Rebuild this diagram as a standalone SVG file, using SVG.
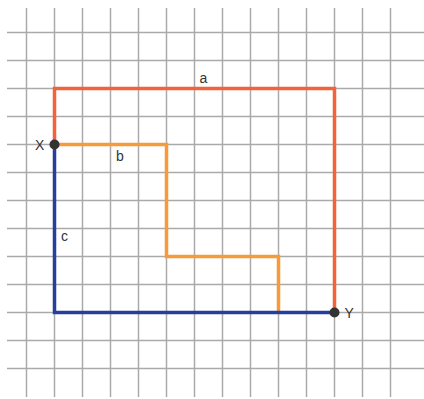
<svg xmlns="http://www.w3.org/2000/svg" width="424" height="399" viewBox="0 0 424 399">
<style>
.g{stroke:#aaaaaa;stroke-width:1.5;fill:none}
.p{fill:none;stroke-width:3.5;stroke-linejoin:miter}
.t{font-family:"Liberation Sans",Arial,sans-serif;font-size:14px;fill:#333}
</style>
<rect width="424" height="399" fill="#ffffff"/>
<g id="grid" class="g">
<path d="M26.5 8V397M54.5 8V397M82.5 8V397M110.5 8V397M138.5 8V397M166.5 8V397M194.5 8V397M222.5 8V397M250.5 8V397M278.5 8V397M306.5 8V397M334.5 8V397M362.5 8V397M390.5 8V397"/>
<path d="M7 32.5H424M7 60.5H424M7 88.5H424M7 116.5H424M7 144.5H424M7 172.5H424M7 200.5H424M7 228.5H424M7 256.5H424M7 284.5H424M7 312.5H424M7 340.5H424M7 368.5H424"/>
</g>
<g id="connectors">
<path id="a" class="p" stroke="#f4623a" d="M54.5 144.5V88.5H334.5V312.5"/>
<path id="b" class="p" stroke="#f99a3a" d="M54.5 144.5H166.5V256.5H278.5V312.5"/>
<path id="c" class="p" stroke="#263f9a" d="M54.5 144.5V312.5H334.5"/>
</g>
<g id="X"><circle cx="54.5" cy="144.5" r="5" fill="#333"/><text class="t" x="35" y="149.5">X</text></g>
<g id="Y"><circle cx="334.5" cy="312.5" r="5" fill="#333"/><text class="t" x="344.5" y="318">Y</text></g>
<text class="t" x="199.5" y="82.5">a</text>
<text class="t" x="116" y="161">b</text>
<text class="t" x="61" y="240.5">c</text>
</svg>
